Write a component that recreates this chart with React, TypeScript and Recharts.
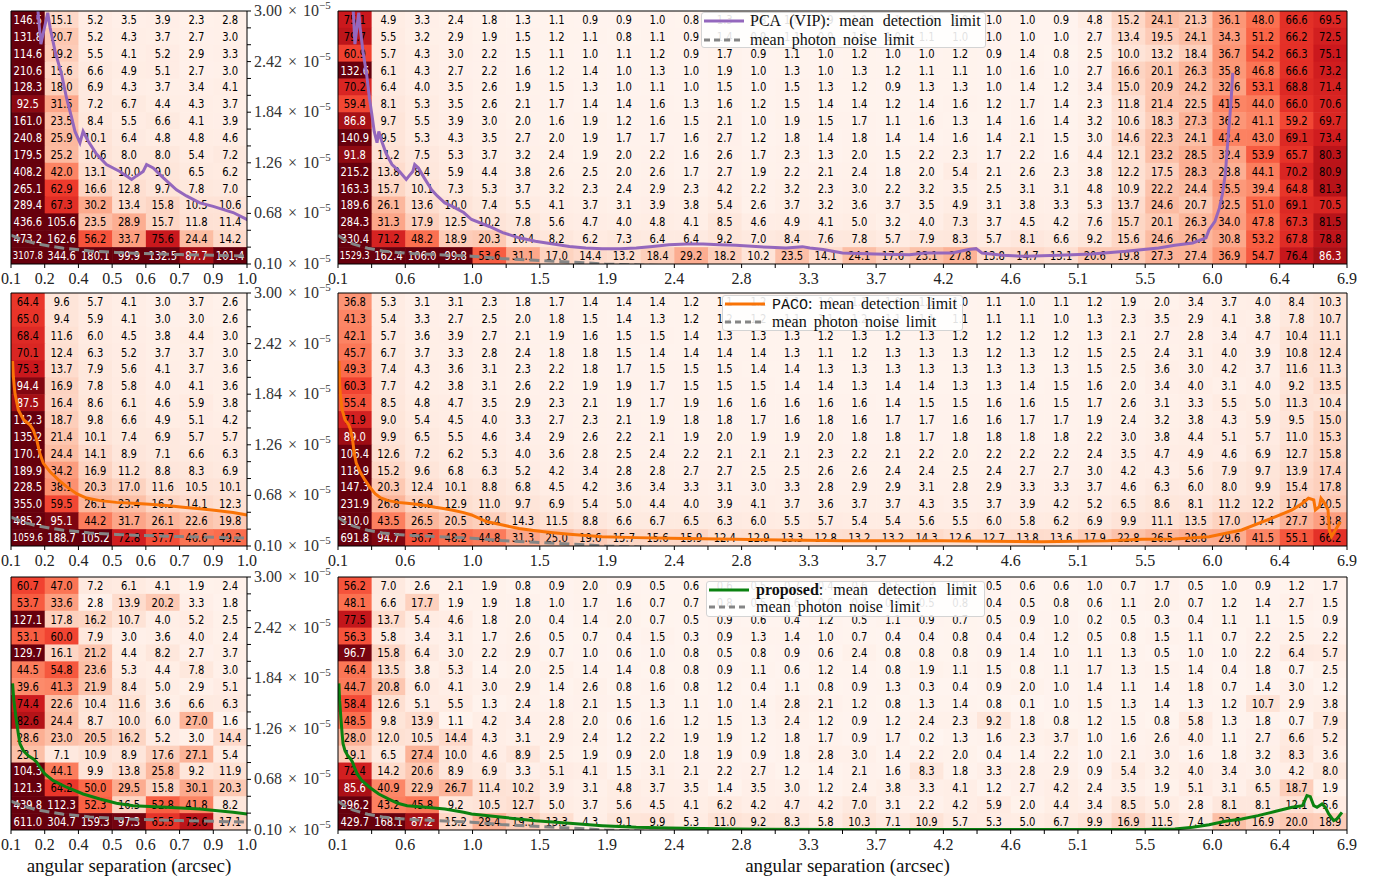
import React from 'react';
import { ComposedChart, Scatter, Line, XAxis, YAxis } from 'recharts';

// ---------------- axis tick labels ----------------
const leftTickLabels = ['0.1', '0.2', '0.4', '0.5', '0.6', '0.7', '0.9', '1.0'];
const rightTickLabels = ['0.1', '0.6', '1.0', '1.5', '1.9', '2.4', '2.8', '3.3', '3.7', '4.2', '4.6', '5.1', '5.5', '6.0', '6.4', '6.9'];
const yTickLabels = ['0.10', '0.68', '1.26', '1.84', '2.42', '3.00'];
const xAxisTitle = 'angular separation (arcsec)';

const SEP_MIN = 0.1;
const LEFT_SEP_MAX = 1.0;
const RIGHT_SEP_MAX = 6.9;
const C_MIN = 0.1; // x 1e-5
const C_MAX = 3.0;
const N_ROWS = 15;
const VMAX = 100;

// ---------------- heat-map values (rows top -> bottom) ----------------
const pcaLeft = [
  [146.5, 15.1, 5.2, 3.5, 3.9, 2.3, 2.8],
  [131.8, 20.7, 5.2, 4.3, 3.7, 2.7, 3.0],
  [114.6, 19.2, 5.5, 4.1, 5.2, 2.9, 3.3],
  [210.6, 15.6, 6.6, 4.9, 5.1, 2.7, 3.0],
  [128.3, 18.0, 6.9, 4.3, 3.7, 3.4, 4.1],
  [92.5, 31.5, 7.2, 6.7, 4.4, 4.3, 3.7],
  [161.0, 23.5, 8.4, 5.5, 6.6, 4.1, 3.9],
  [240.8, 25.9, 10.1, 6.4, 4.8, 4.8, 4.6],
  [179.5, 25.2, 10.6, 8.0, 8.0, 5.4, 7.2],
  [408.2, 42.0, 13.1, 10.0, 9.0, 6.5, 6.2],
  [265.1, 62.9, 16.6, 12.8, 9.7, 7.8, 7.0],
  [289.4, 67.3, 30.2, 13.4, 15.8, 10.5, 10.6],
  [436.6, 105.6, 23.5, 28.9, 15.7, 11.8, 11.4],
  [473.2, 162.6, 56.2, 33.7, 75.6, 24.4, 14.2],
  [3107.8, 344.6, 180.1, 99.9, 132.5, 87.7, 101.4],
];

const pcaRight = [
  [75.1, 4.9, 3.3, 2.4, 1.8, 1.3, 1.1, 0.9, 0.9, 1.0, 0.8, 1.3, 0.8, 1.0, 0.9, 1.0, 1.1, 0.9, 1.0, 1.0, 1.0, 0.9, 4.8, 15.2, 24.1, 21.3, 36.1, 48.0, 66.6, 69.5],
  [79.7, 5.5, 3.2, 2.9, 1.9, 1.5, 1.2, 1.1, 0.8, 1.1, 0.9, 1.4, 0.9, 1.1, 0.9, 1.0, 1.0, 1.1, 1.0, 1.0, 1.0, 1.0, 2.7, 13.4, 19.5, 24.1, 34.3, 51.2, 66.2, 72.5],
  [60.9, 5.7, 4.3, 3.0, 2.2, 1.5, 1.1, 1.0, 1.1, 1.2, 0.9, 1.7, 0.9, 1.1, 1.0, 1.2, 1.0, 1.0, 1.2, 0.9, 1.4, 0.8, 2.5, 10.0, 13.2, 18.4, 36.7, 54.2, 66.3, 75.1],
  [132.6, 6.1, 4.3, 2.7, 2.2, 1.6, 1.2, 1.4, 1.0, 1.3, 1.0, 1.9, 1.0, 1.3, 1.0, 1.3, 1.2, 1.1, 1.1, 1.0, 1.6, 1.0, 2.7, 16.6, 20.1, 26.3, 35.8, 46.8, 66.6, 73.2],
  [70.2, 6.4, 4.0, 3.5, 2.6, 1.9, 1.5, 1.3, 1.0, 1.1, 1.0, 1.5, 1.0, 1.5, 1.3, 1.2, 0.9, 1.3, 1.3, 1.0, 1.4, 1.2, 3.4, 15.0, 20.9, 24.2, 32.6, 53.1, 68.8, 71.4],
  [59.4, 8.1, 5.3, 3.5, 2.6, 2.1, 1.7, 1.4, 1.4, 1.6, 1.3, 1.6, 1.2, 1.5, 1.4, 1.4, 1.2, 1.4, 1.6, 1.2, 1.7, 1.4, 2.3, 11.8, 21.4, 22.5, 41.5, 44.0, 66.0, 70.6],
  [86.8, 9.7, 5.5, 3.9, 3.0, 2.0, 1.6, 1.9, 1.2, 1.6, 1.5, 2.1, 1.0, 1.9, 1.5, 1.7, 1.1, 1.6, 1.3, 1.4, 1.6, 1.4, 3.2, 10.6, 18.3, 27.3, 36.2, 41.1, 59.2, 69.7],
  [140.9, 9.5, 5.3, 4.3, 3.5, 2.7, 2.0, 1.9, 1.7, 1.7, 1.6, 2.7, 1.2, 1.8, 1.4, 1.8, 1.4, 1.4, 1.6, 1.4, 2.1, 1.5, 3.0, 14.6, 22.3, 24.1, 42.4, 43.0, 69.1, 73.4],
  [91.8, 11.2, 7.5, 5.3, 3.7, 3.2, 2.4, 1.9, 2.0, 2.2, 1.6, 2.6, 1.7, 2.3, 1.3, 2.0, 1.5, 2.2, 2.3, 1.7, 2.2, 1.6, 4.4, 12.1, 23.2, 28.5, 32.4, 53.9, 65.7, 80.3],
  [215.2, 13.8, 8.4, 5.9, 4.4, 3.8, 2.6, 2.5, 2.0, 2.6, 1.7, 2.7, 1.9, 2.2, 2.1, 2.4, 1.8, 2.0, 5.4, 2.1, 2.6, 2.3, 3.8, 12.2, 17.5, 28.3, 28.8, 44.1, 70.2, 80.9],
  [163.3, 15.7, 10.1, 7.3, 5.3, 3.7, 3.2, 2.3, 2.4, 2.9, 2.3, 4.2, 2.2, 3.2, 2.3, 3.0, 2.2, 3.2, 3.5, 2.5, 3.1, 3.1, 4.8, 10.9, 22.2, 24.4, 35.5, 39.4, 64.8, 81.3],
  [189.6, 26.1, 13.6, 10.0, 7.4, 5.5, 4.1, 3.7, 3.1, 3.9, 3.8, 5.4, 2.6, 3.7, 3.2, 3.6, 3.7, 3.5, 4.9, 3.1, 3.8, 3.3, 5.3, 13.7, 24.6, 20.7, 32.5, 51.0, 69.1, 70.5],
  [284.3, 31.3, 17.9, 12.5, 10.2, 7.8, 5.6, 4.7, 4.0, 4.8, 4.1, 8.5, 4.6, 4.9, 4.1, 5.0, 3.2, 4.0, 7.3, 3.7, 4.5, 4.2, 7.6, 15.7, 20.1, 26.3, 34.0, 47.8, 67.3, 81.5],
  [330.4, 71.2, 48.2, 18.9, 20.3, 10.4, 8.2, 6.2, 7.3, 6.4, 6.4, 9.2, 7.0, 8.4, 7.6, 7.8, 5.7, 7.9, 8.3, 5.7, 8.1, 6.6, 9.2, 15.6, 24.6, 26.1, 30.8, 53.2, 67.8, 78.8],
  [1529.3, 162.4, 106.0, 99.8, 53.6, 31.1, 17.0, 14.4, 13.2, 18.4, 29.2, 18.2, 10.2, 23.5, 14.1, 24.1, 17.6, 23.1, 27.8, 13.8, 14.7, 13.1, 20.6, 19.8, 27.3, 27.4, 36.9, 54.7, 76.4, 86.3],
];

const pacoLeft = [
  [64.4, 9.6, 5.7, 4.1, 3.0, 3.7, 2.6],
  [65.0, 9.4, 5.9, 4.1, 3.0, 3.0, 2.6],
  [68.4, 11.6, 6.0, 4.5, 3.8, 4.4, 3.0],
  [70.1, 12.4, 6.3, 5.2, 3.7, 3.7, 3.0],
  [75.3, 13.7, 7.9, 5.6, 4.1, 3.7, 3.6],
  [94.4, 16.9, 7.8, 5.8, 4.0, 4.1, 3.6],
  [87.5, 16.4, 8.6, 6.1, 4.6, 5.9, 3.8],
  [112.3, 18.7, 9.8, 6.6, 4.9, 5.1, 4.2],
  [135.2, 21.4, 10.1, 7.4, 6.9, 5.7, 5.7],
  [170.7, 24.4, 14.1, 8.9, 7.1, 6.6, 6.3],
  [189.9, 34.2, 16.9, 11.2, 8.8, 8.3, 6.9],
  [228.5, 38.1, 20.3, 17.0, 11.6, 10.5, 10.1],
  [355.0, 59.5, 26.1, 23.4, 16.2, 14.1, 12.3],
  [485.2, 95.1, 44.2, 31.7, 26.1, 22.6, 19.8],
  [1059.6, 188.7, 105.2, 72.8, 57.7, 46.6, 49.2],
];

const pacoRight = [
  [36.8, 5.3, 3.1, 3.1, 2.3, 1.8, 1.7, 1.4, 1.4, 1.4, 1.2, 1.1, 1.2, 1.1, 1.0, 1.1, 1.0, 1.1, 1.0, 1.1, 1.0, 1.1, 1.2, 1.9, 2.0, 3.4, 3.7, 4.0, 8.4, 10.3],
  [41.3, 5.4, 3.3, 2.7, 2.5, 2.0, 1.8, 1.5, 1.4, 1.3, 1.2, 1.2, 1.2, 1.1, 1.1, 1.2, 1.1, 1.1, 1.1, 1.1, 1.1, 1.0, 1.3, 2.3, 3.5, 2.9, 4.1, 3.8, 7.8, 10.7],
  [42.1, 5.7, 3.6, 3.9, 2.7, 2.1, 1.9, 1.6, 1.5, 1.5, 1.4, 1.3, 1.3, 1.3, 1.2, 1.3, 1.2, 1.3, 1.2, 1.2, 1.2, 1.2, 1.3, 2.1, 2.7, 2.8, 3.4, 4.7, 10.4, 11.1],
  [45.7, 6.7, 3.7, 3.3, 2.8, 2.4, 1.8, 1.8, 1.5, 1.4, 1.4, 1.4, 1.4, 1.3, 1.1, 1.2, 1.3, 1.3, 1.3, 1.2, 1.3, 1.2, 1.5, 2.5, 2.4, 3.1, 4.0, 3.9, 10.8, 12.4],
  [49.3, 7.4, 4.3, 3.6, 3.1, 2.3, 2.2, 1.8, 1.7, 1.5, 1.5, 1.5, 1.4, 1.4, 1.3, 1.3, 1.3, 1.3, 1.3, 1.3, 1.3, 1.3, 1.5, 2.5, 3.6, 3.0, 4.2, 3.7, 11.6, 11.3],
  [60.3, 7.7, 4.2, 3.8, 3.1, 2.6, 2.2, 1.9, 1.9, 1.7, 1.5, 1.5, 1.5, 1.4, 1.4, 1.3, 1.4, 1.4, 1.3, 1.3, 1.4, 1.5, 1.6, 2.0, 3.4, 4.0, 3.1, 4.0, 9.2, 13.5],
  [55.4, 8.5, 4.8, 4.7, 3.5, 2.9, 2.3, 2.1, 1.9, 1.7, 1.9, 1.6, 1.6, 1.6, 1.6, 1.6, 1.4, 1.5, 1.5, 1.6, 1.6, 1.5, 1.7, 2.6, 3.1, 3.3, 5.5, 5.0, 11.3, 10.4],
  [71.9, 9.0, 5.4, 4.5, 4.0, 3.3, 2.7, 2.3, 2.1, 1.9, 1.8, 1.8, 1.7, 1.6, 1.8, 1.6, 1.7, 1.7, 1.6, 1.6, 1.7, 1.7, 1.9, 2.4, 3.2, 3.8, 4.3, 5.9, 9.5, 15.0],
  [89.0, 9.9, 6.5, 5.5, 4.6, 3.4, 2.9, 2.6, 2.2, 2.1, 1.9, 2.0, 1.9, 1.9, 2.0, 1.8, 1.8, 1.7, 1.8, 1.8, 1.8, 1.8, 2.2, 3.0, 3.8, 4.4, 5.1, 5.7, 11.0, 15.3],
  [106.4, 12.6, 7.2, 6.2, 5.3, 4.0, 3.6, 2.8, 2.5, 2.4, 2.2, 2.1, 2.1, 2.1, 2.3, 2.2, 2.1, 2.2, 2.0, 2.2, 2.2, 2.2, 2.4, 3.5, 4.7, 4.9, 4.6, 6.9, 12.7, 15.8],
  [118.9, 15.2, 9.6, 6.8, 6.3, 5.2, 4.2, 3.4, 2.8, 2.8, 2.7, 2.7, 2.5, 2.5, 2.6, 2.6, 2.4, 2.4, 2.5, 2.4, 2.7, 2.7, 3.0, 4.2, 4.3, 5.6, 7.9, 9.7, 13.9, 17.4],
  [147.3, 20.3, 12.4, 10.1, 8.8, 6.8, 4.5, 4.2, 3.6, 3.4, 3.3, 3.1, 3.0, 3.3, 2.8, 2.9, 2.9, 3.1, 2.8, 2.9, 3.3, 3.3, 3.7, 4.6, 6.3, 6.0, 8.0, 9.9, 15.4, 17.8],
  [231.9, 26.8, 16.9, 12.9, 11.0, 9.7, 6.9, 5.4, 5.0, 4.4, 4.0, 3.9, 4.1, 3.7, 3.6, 3.7, 3.7, 4.3, 3.5, 3.7, 3.9, 4.2, 5.2, 6.5, 8.6, 8.1, 11.2, 12.2, 17.6, 20.5],
  [310.0, 43.5, 26.5, 20.5, 18.4, 14.3, 11.5, 8.8, 6.6, 6.7, 6.5, 6.3, 6.0, 5.5, 5.7, 5.4, 5.4, 5.6, 5.5, 6.0, 5.8, 6.2, 6.9, 9.9, 11.1, 13.5, 17.0, 17.4, 27.7, 33.8],
  [691.8, 94.7, 56.7, 48.2, 44.8, 31.3, 25.0, 19.6, 15.7, 15.6, 15.9, 12.4, 12.9, 13.3, 12.8, 13.2, 13.2, 14.3, 12.6, 12.7, 13.8, 13.6, 17.9, 22.8, 26.5, 28.8, 29.6, 41.5, 55.1, 66.2],
];

const propLeft = [
  [60.7, 47.0, 7.2, 6.1, 4.1, 1.9, 2.4],
  [53.7, 33.6, 2.8, 13.9, 20.2, 3.3, 1.8],
  [127.1, 17.8, 16.2, 10.7, 4.0, 5.2, 2.5],
  [53.1, 60.0, 7.9, 3.0, 3.6, 4.0, 2.4],
  [129.7, 16.1, 21.2, 4.4, 8.2, 2.7, 3.7],
  [44.5, 54.8, 23.6, 5.3, 4.4, 7.8, 3.0],
  [39.6, 41.3, 21.9, 8.4, 5.0, 2.9, 5.1],
  [74.4, 22.6, 10.4, 11.6, 3.6, 6.6, 6.3],
  [82.6, 24.4, 8.7, 10.0, 6.0, 27.0, 1.6],
  [28.6, 23.0, 20.5, 16.2, 5.2, 3.0, 14.4],
  [23.1, 7.1, 10.9, 8.9, 17.6, 27.1, 5.4],
  [104.3, 44.1, 9.9, 13.8, 25.8, 9.2, 11.9],
  [121.3, 64.2, 50.0, 29.5, 15.8, 30.1, 20.3],
  [439.8, 112.3, 52.3, 16.5, 52.8, 41.8, 8.2],
  [611.0, 304.7, 159.3, 97.3, 65.5, 79.6, 17.1],
];

const propRight = [
  [56.2, 7.0, 2.6, 2.1, 1.9, 0.8, 0.9, 2.0, 0.9, 0.5, 0.6, 0.6, 0.5, 0.7, 0.4, 0.6, 0.5, 0.3, 0.6, 0.5, 0.6, 0.6, 1.0, 0.7, 1.7, 0.5, 1.0, 0.9, 1.2, 1.7],
  [48.1, 6.6, 17.7, 1.9, 1.9, 1.8, 1.0, 1.7, 1.6, 0.7, 0.7, 0.8, 0.5, 0.6, 0.9, 0.4, 0.7, 0.5, 0.8, 0.4, 0.5, 0.8, 0.6, 1.1, 2.0, 0.7, 1.2, 1.4, 2.7, 1.5],
  [77.5, 13.7, 5.4, 4.6, 1.8, 2.0, 0.4, 1.4, 2.0, 0.7, 0.5, 0.9, 0.6, 0.4, 1.2, 0.5, 1.1, 0.9, 0.7, 0.5, 0.9, 1.0, 0.2, 0.5, 0.3, 0.4, 1.1, 1.1, 1.5, 0.9],
  [56.3, 5.8, 3.4, 3.1, 1.7, 2.6, 0.5, 0.7, 0.4, 1.5, 0.3, 0.9, 1.3, 1.4, 1.0, 0.7, 0.4, 0.4, 0.8, 0.4, 0.4, 1.2, 0.5, 0.8, 1.5, 1.1, 0.7, 2.2, 2.5, 2.2],
  [96.7, 15.8, 6.4, 3.0, 2.2, 2.9, 0.7, 1.0, 0.6, 1.0, 0.8, 0.5, 0.8, 0.9, 0.6, 2.4, 0.8, 0.8, 0.8, 0.9, 1.4, 1.0, 1.1, 1.3, 0.5, 1.0, 1.0, 2.2, 6.4, 5.7],
  [46.4, 13.5, 3.8, 5.3, 1.4, 2.0, 2.5, 1.4, 1.4, 0.8, 0.8, 0.9, 1.1, 0.6, 1.2, 1.4, 0.8, 1.9, 1.1, 1.5, 0.8, 1.1, 1.7, 1.3, 1.5, 1.4, 0.4, 1.8, 0.7, 2.5],
  [44.7, 20.8, 6.0, 4.1, 3.0, 2.9, 1.4, 2.6, 0.8, 1.6, 0.8, 1.2, 0.4, 1.1, 0.8, 0.9, 1.3, 0.3, 0.4, 0.9, 2.0, 1.0, 1.4, 1.1, 1.4, 1.8, 0.7, 1.4, 3.0, 1.2],
  [58.4, 12.6, 5.1, 5.5, 1.3, 2.4, 1.8, 2.1, 1.5, 1.3, 1.1, 1.0, 1.4, 2.8, 2.1, 1.2, 0.8, 1.3, 1.4, 0.8, 0.1, 1.0, 1.5, 1.3, 1.4, 1.3, 1.2, 10.7, 2.9, 3.8],
  [48.5, 9.8, 13.9, 1.1, 4.2, 3.4, 2.8, 2.0, 0.6, 1.6, 1.2, 1.5, 1.3, 2.4, 1.2, 0.9, 1.2, 2.4, 2.3, 9.2, 1.8, 0.8, 1.2, 1.5, 0.8, 5.8, 1.3, 1.8, 0.7, 7.9],
  [28.0, 12.0, 10.5, 14.4, 4.3, 3.1, 2.9, 2.4, 1.2, 2.2, 1.9, 1.9, 1.2, 1.8, 1.7, 0.9, 1.7, 0.2, 1.3, 1.6, 2.3, 3.7, 1.0, 1.6, 2.6, 4.0, 1.1, 2.7, 6.6, 5.2],
  [19.1, 6.5, 27.4, 10.0, 4.6, 8.9, 2.5, 1.9, 0.9, 2.0, 1.8, 1.9, 0.9, 1.8, 2.8, 3.0, 1.4, 2.2, 2.0, 0.4, 1.4, 2.2, 1.0, 2.1, 3.0, 1.6, 1.8, 3.2, 8.3, 3.6],
  [72.4, 14.2, 20.6, 8.9, 6.9, 3.3, 5.1, 4.1, 1.5, 3.1, 2.1, 2.2, 2.7, 1.2, 1.4, 2.1, 1.6, 8.3, 1.8, 3.3, 2.8, 2.9, 0.9, 5.4, 3.2, 4.0, 3.4, 3.0, 4.2, 8.0],
  [85.6, 40.9, 22.9, 26.7, 11.4, 10.2, 3.9, 3.1, 4.8, 3.7, 3.5, 1.4, 3.5, 3.0, 1.2, 2.4, 3.8, 3.3, 4.1, 1.2, 2.7, 4.2, 2.4, 3.5, 1.9, 5.1, 3.1, 6.5, 18.7, 1.9],
  [296.2, 43.2, 45.8, 9.2, 10.5, 12.7, 5.0, 3.7, 5.6, 4.5, 4.1, 6.2, 4.2, 4.7, 4.2, 7.0, 3.1, 2.2, 4.2, 5.9, 2.0, 4.4, 3.4, 8.5, 5.0, 2.8, 8.1, 8.1, 12.1, 5.6],
  [429.7, 168.1, 87.2, 15.2, 28.4, 19.3, 13.3, 4.3, 9.1, 9.9, 5.3, 11.0, 9.2, 8.3, 5.8, 10.3, 7.1, 10.9, 5.7, 5.3, 5.0, 6.7, 9.9, 16.9, 11.5, 7.4, 23.6, 16.9, 20.0, 18.9],
];

// ---------------- curves: [separation (arcsec), contrast (x1e-5)] ----------------
const photonNoiseLimit = [
  [0.1, 0.43], [0.15, 0.37], [0.2, 0.33], [0.3, 0.28], [0.4, 0.25], [0.5, 0.232], [0.6, 0.22],
  [0.75, 0.208], [1.0, 0.19], [1.2, 0.163], [1.43, 0.143], [1.66, 0.123], [1.9, 0.1], [2.2, 0.085],
  [3.0, 0.07], [4.5, 0.06], [6.9, 0.055],
];

const pcaDetection = [
  [0.2, 3.1], [0.214, 2.62], [0.24, 2.98], [0.249, 2.81], [0.268, 2.54], [0.293, 2.27], [0.312, 2.0],
  [0.331, 1.78], [0.344, 1.62], [0.363, 1.49], [0.375, 1.62], [0.394, 1.51], [0.426, 1.36], [0.464, 1.24],
  [0.515, 1.16], [0.56, 1.07], [0.579, 1.11], [0.604, 1.16], [0.617, 1.24], [0.642, 1.2], [0.68, 1.09],
  [0.731, 0.95], [0.769, 0.88], [0.82, 0.8], [0.871, 0.76], [0.947, 0.69], [1.0, 0.61], [1.12, 0.53],
  [1.21, 0.46], [1.32, 0.4], [1.43, 0.36], [1.55, 0.33], [1.66, 0.3], [1.77, 0.284], [1.88, 0.276],
  [2.0, 0.276], [2.11, 0.284], [2.22, 0.3], [2.33, 0.32], [2.45, 0.33], [2.56, 0.33], [2.67, 0.322],
  [2.78, 0.314], [2.89, 0.303], [3.01, 0.291], [3.12, 0.284], [3.23, 0.299], [3.28, 0.284], [3.37, 0.265],
  [3.5, 0.226], [3.72, 0.215], [3.95, 0.207], [4.06, 0.226], [4.24, 0.226], [4.35, 0.265], [4.4, 0.276],
  [4.44, 0.226], [4.58, 0.2], [4.73, 0.188], [4.96, 0.2], [5.18, 0.215], [5.41, 0.245], [5.63, 0.284],
  [5.74, 0.314], [5.86, 0.341], [5.95, 0.4], [5.97, 0.49], [6.01, 0.59], [6.04, 0.74], [6.06, 0.9],
  [6.08, 1.13], [6.09, 1.36], [6.1, 1.58], [6.11, 1.78], [6.12, 2.0], [6.13, 2.29],
];

const pacoDetection = [
  [0.106, 2.22], [0.109, 2.04], [0.115, 1.85], [0.128, 1.66], [0.147, 1.55], [0.172, 1.49], [0.185, 1.43],
  [0.198, 1.32], [0.21, 1.16], [0.223, 1.05], [0.249, 0.95], [0.28, 0.86], [0.312, 0.78], [0.35, 0.7],
  [0.388, 0.65], [0.439, 0.62], [0.502, 0.6], [0.566, 0.59], [0.629, 0.578], [0.693, 0.563], [0.756, 0.544],
  [0.82, 0.528], [0.883, 0.506], [0.947, 0.483], [1.0, 0.456], [1.1, 0.38], [1.21, 0.34], [1.32, 0.3],
  [1.43, 0.276], [1.55, 0.253], [1.66, 0.234], [1.77, 0.219], [1.88, 0.207], [2.11, 0.196], [2.33, 0.188],
  [2.78, 0.176], [3.52, 0.161], [4.17, 0.161], [4.84, 0.15], [5.29, 0.161], [5.52, 0.176], [5.74, 0.18],
  [5.97, 0.207], [6.19, 0.284], [6.42, 0.437], [6.53, 0.513], [6.6, 0.59], [6.64, 0.647], [6.676, 0.628],
  [6.687, 0.513], [6.714, 0.551], [6.725, 0.647], [6.75, 0.59], [6.772, 0.513], [6.781, 0.284],
  [6.795, 0.207], [6.822, 0.284], [6.855, 0.379],
];

const proposedDetection = [
  [0.106, 1.78], [0.111, 1.58], [0.119, 1.39], [0.128, 1.2], [0.134, 1.09], [0.147, 1.01], [0.166, 0.95],
  [0.185, 0.915], [0.198, 0.877], [0.21, 0.82], [0.229, 0.743], [0.261, 0.666], [0.312, 0.59], [0.375, 0.513],
  [0.439, 0.456], [0.502, 0.406], [0.566, 0.379], [0.693, 0.36], [0.82, 0.341], [0.947, 0.303], [1.0, 0.284],
  [1.21, 0.245], [1.43, 0.207], [1.66, 0.176], [1.88, 0.15], [2.11, 0.131], [2.33, 0.123], [2.78, 0.111],
  [3.52, 0.106], [5.52, 0.105], [5.74, 0.111], [5.86, 0.131], [5.97, 0.161], [6.08, 0.2], [6.19, 0.226],
  [6.3, 0.265], [6.42, 0.314], [6.53, 0.36], [6.6, 0.379], [6.63, 0.494], [6.653, 0.482], [6.676, 0.379],
  [6.698, 0.36], [6.732, 0.398], [6.754, 0.36], [6.777, 0.284], [6.81, 0.207], [6.832, 0.226], [6.866, 0.303],
];

// ---------------- styling helpers ----------------
const SERIF = '"Liberation Serif", "Times New Roman", serif';
const CELL_FONT = '"DejaVu Sans", sans-serif';
const MONO = '"Liberation Mono", "DejaVu Sans Mono", monospace';

const REDS = [
  [255, 245, 240], [254, 224, 210], [252, 187, 161], [252, 146, 114], [251, 106, 74],
  [239, 59, 44], [203, 24, 29], [165, 15, 21], [103, 0, 13],
];
function reds(t: number): string {
  const tt = Math.max(0, Math.min(1, t));
  const p = tt * 8;
  const i = Math.min(7, Math.floor(p));
  const f = p - i;
  const a = REDS[i];
  const b = REDS[i + 1];
  const c = a.map((av, k) => Math.round(av + (b[k] - av) * f));
  return `rgb(${c[0]},${c[1]},${c[2]})`;
}

const rnd = (v: number) => Math.round(v * 1e6) / 1e6;
const toPts = (arr: number[][]) => arr.map(([x, y]) => ({ x, y }));
const ROW_STEP = (C_MAX - C_MIN) / N_ROWS;
const yTicks = Array.from({ length: N_ROWS + 1 }, (_, i) => rnd(C_MIN + i * ROW_STEP));
const photonPts = toPts(photonNoiseLimit);

function makeCellShape(pxW: number, pxH: number) {
  return (props: any) => {
    const { cx, cy, payload } = props;
    if (cx == null || cy == null || !payload) return null;
    const v = payload.v as number;
    const label = v.toFixed(1);
    const long = label.length >= 6;
    const fs = long ? 8.6 : 10;
    const sy = long ? 1.15 : 1.3;
    return (
      <g>
        <rect x={cx - pxW / 2} y={cy - pxH / 2} width={pxW + 0.6} height={pxH + 0.6} fill={reds(v / VMAX)} />
        <text
          x={0}
          y={0}
          transform={`translate(${cx},${cy}) scale(1,${sy})`}
          textAnchor="middle"
          dominantBaseline="central"
          fontFamily={CELL_FONT}
          fontSize={fs}
          fill={v >= 85 ? '#ffffff' : '#000000'}
        >
          {label}
        </text>
      </g>
    );
  };
}

const YTick = (props: any) => {
  const { x, y, payload } = props;
  const idx = Math.round((payload.value - C_MIN) / ROW_STEP);
  if (idx % 3 !== 0) return null;
  return (
    <text x={x} y={y} dy={5} textAnchor="start" fontFamily={SERIF} fontSize={16} fill="#333" style={{ wordSpacing: 2 }}>
      {yTickLabels[idx / 3]} × 10
      <tspan dy={-7} fontSize={11}>−5</tspan>
    </text>
  );
};

type PanelProps = {
  rows: number[][];
  sepMax: number;
  tickLabels: string[];
  labelEvery: number;
  plotLeft: number;
  plotTop: number;
  plotW: number;
  plotH: number;
  detection: { x: number; y: number }[];
  color: string;
  labelsSide: 'left' | 'right';
  xLabel: boolean;
};

function Panel(p: PanelProps) {
  const { rows, sepMax, tickLabels, labelEvery, plotLeft, plotTop, plotW, plotH, detection, color, labelsSide, xLabel } = p;
  const ncols = rows[0].length;
  const colStep = (sepMax - SEP_MIN) / ncols;
  const cells = rows.flatMap((row, r) =>
    row.map((v, c) => ({ x: SEP_MIN + (c + 0.5) * colStep, y: C_MAX - (r + 0.5) * ROW_STEP, v }))
  );
  const xTicks = Array.from({ length: ncols + 1 }, (_, i) => rnd(SEP_MIN + i * colStep));
  const isLeft = labelsSide === 'right';
  const WL = isLeft ? 10 : 16;
  const WR = isLeft ? 92 : 14;
  const HT = Math.min(11, plotTop);
  const HB = xLabel ? 48 : 26;
  const W = WL + plotW + WR;
  const H = HT + plotH + HB;
  const shape = makeCellShape(plotW / ncols, plotH / N_ROWS);
  const xFmt = (v: number) => {
    const i = Math.round((v - SEP_MIN) / colStep);
    return i % labelEvery === 0 ? tickLabels[i / labelEvery] ?? '' : '';
  };
  const mainOrient = isLeft ? 'right' : 'left';
  const auxOrient = isLeft ? 'left' : 'right';
  return (
    <div style={{ position: 'absolute', left: plotLeft - WL, top: plotTop - HT, width: W, height: H }}>
      <ComposedChart width={W} height={H} margin={{ top: 0, right: 0, bottom: 0, left: 0 }}>
        <Scatter xAxisId="b" yAxisId="m" data={cells} shape={shape} isAnimationActive={false} zIndex={50} />
        <Line
          xAxisId="b"
          yAxisId="m"
          data={photonPts}
          dataKey="y"
          type="linear"
          stroke="#858585"
          strokeWidth={3}
          strokeDasharray="10 5"
          dot={false}
          activeDot={false}
          isAnimationActive={false}
        />
        <Line
          xAxisId="b"
          yAxisId="m"
          data={detection}
          dataKey="y"
          type="linear"
          stroke={color}
          strokeWidth={3}
          dot={false}
          activeDot={false}
          isAnimationActive={false}
        />
        <XAxis
          xAxisId="b"
          type="number"
          dataKey="x"
          domain={[SEP_MIN, sepMax]}
          allowDataOverflow
          ticks={xTicks}
          interval={0}
          orientation="bottom"
          height={HB}
          tickSize={4}
          tickMargin={5}
          tickFormatter={xFmt}
          tick={{ fontFamily: SERIF, fontSize: 16, fill: '#222' }}
          stroke="#000"
          label={
            xLabel
              ? { value: xAxisTitle, position: 'insideBottom', offset: 6, dx: isLeft ? 0 : 5, style: { fontFamily: SERIF, fontSize: 19, fill: '#111' } }
              : undefined
          }
        />
        <XAxis
          xAxisId="t"
          type="number"
          dataKey="x"
          domain={[SEP_MIN, sepMax]}
          allowDataOverflow
          ticks={xTicks}
          interval={0}
          orientation="top"
          height={HT}
          tickSize={4}
          tick={false}
          stroke="#000"
        />
        <YAxis
          yAxisId="m"
          type="number"
          dataKey="y"
          domain={[C_MIN, C_MAX]}
          allowDataOverflow
          ticks={yTicks}
          interval={0}
          orientation={mainOrient}
          width={isLeft ? WR : WL}
          tickSize={4}
          tickMargin={3}
          tick={isLeft ? (props: any) => <YTick {...props} /> : false}
          stroke="#000"
        />
        <YAxis
          yAxisId="a"
          type="number"
          dataKey="y"
          domain={[C_MIN, C_MAX]}
          allowDataOverflow
          ticks={yTicks}
          orientation={auxOrient}
          width={isLeft ? WL : WR}
          tick={false}
          tickLine={false}
          stroke="#000"
        />
      </ComposedChart>
    </div>
  );
}

function LegendBox(props: {
  left: number; top: number; width: number; height: number; color: string;
  sampleX: number; textX: number; y1: number; y2: number; label: React.ReactNode; spacing1: number; spacing2: number;
}) {
  const { left, top, width, height, color, sampleX, textX, y1, y2, label, spacing1, spacing2 } = props;
  const textStyle: React.CSSProperties = {
    position: 'absolute', left: textX, fontFamily: SERIF, fontSize: 16, lineHeight: '18px', color: '#111', whiteSpace: 'nowrap',
  };
  return (
    <div
      style={{
        position: 'absolute', left, top, width, height, boxSizing: 'border-box',
        background: 'rgba(255,255,255,0.88)', border: '1px solid #d4d4d4', borderRadius: 3,
      }}
    >
      <svg width={width} height={height} style={{ position: 'absolute', left: -1, top: -1 }}>
        <line x1={sampleX} x2={sampleX + 40} y1={y1} y2={y1} stroke={color} strokeWidth={3} />
        <line x1={sampleX} x2={sampleX + 40} y1={y2} y2={y2} stroke="#858585" strokeWidth={3} strokeDasharray="6 4" />
      </svg>
      <div style={{ ...textStyle, top: y1 - 10, wordSpacing: spacing1 }}>{label}</div>
      <div style={{ ...textStyle, top: y2 - 10, wordSpacing: spacing2 }}>mean photon noise limit</div>
    </div>
  );
}

const ROW_TOPS = [11, 293, 577];
const PLOT_H = 253;
const LEFT_X = 11;
const LEFT_W = 236;
const RIGHT_X = 338;
const RIGHT_W = 1009;

export default function App() {
  const methods = [
    { left: pcaLeft, right: pcaRight, det: toPts(pcaDetection), color: '#9467bd' },
    { left: pacoLeft, right: pacoRight, det: toPts(pacoDetection), color: '#f97306' },
    { left: propLeft, right: propRight, det: toPts(proposedDetection), color: '#0b8210' },
  ];
  return (
    <div style={{ position: 'absolute', left: 0, top: 0, width: 1381, height: 881, background: '#fff', overflow: 'hidden' }}>
      {methods.map((m, i) => (
        <React.Fragment key={i}>
          <Panel
            rows={m.left}
            sepMax={LEFT_SEP_MAX}
            tickLabels={leftTickLabels}
            labelEvery={1}
            plotLeft={LEFT_X}
            plotTop={ROW_TOPS[i]}
            plotW={LEFT_W}
            plotH={PLOT_H}
            detection={m.det}
            color={m.color}
            labelsSide="right"
            xLabel={i === 2}
          />
          <Panel
            rows={m.right}
            sepMax={RIGHT_SEP_MAX}
            tickLabels={rightTickLabels}
            labelEvery={2}
            plotLeft={RIGHT_X}
            plotTop={ROW_TOPS[i]}
            plotW={RIGHT_W}
            plotH={PLOT_H}
            detection={m.det}
            color={m.color}
            labelsSide="left"
            xLabel={i === 2}
          />
        </React.Fragment>
      ))}
      <LegendBox
        left={701} top={12} width={285} height={36} color="#9467bd" sampleX={3} textX={48} y1={9} y2={28}
        spacing1={5} spacing2={3}
        label={<span>PCA (VIP): mean detection limit</span>}
      />
      <LegendBox
        left={722} top={295} width={241} height={36} color="#f97306" sampleX={3} textX={49} y1={9} y2={27}
        spacing1={3} spacing2={3}
        label={<span><span style={{ fontFamily: MONO, fontSize: 15 }}>PACO</span>: mean detection limit</span>}
      />
      <LegendBox
        left={706} top={581} width={279} height={36} color="#0b8210" sampleX={3} textX={49} y1={9} y2={26}
        spacing1={6} spacing2={3}
        label={<span><b>proposed</b>: mean detection limit</span>}
      />
    </div>
  );
}
